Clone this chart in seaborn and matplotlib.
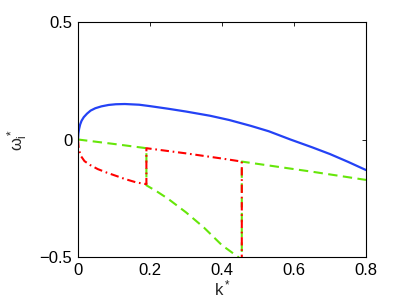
import matplotlib
matplotlib.use("Agg")
import matplotlib.pyplot as plt
import seaborn as sns
import pandas as pd

# growth-rate branch (solid blue)
k_blue = [0, 0.001, 0.003, 0.006, 0.01, 0.016, 0.025, 0.035, 0.048, 0.065, 0.085, 0.105, 0.13,
          0.17, 0.2, 0.25, 0.3, 0.367, 0.42, 0.48, 0.53, 0.59, 0.65, 0.7, 0.75, 0.8]
w_blue = [0, 0.025, 0.045, 0.064, 0.08, 0.095, 0.11, 0.123, 0.133, 0.141, 0.147, 0.15, 0.151,
          0.148, 0.142, 0.131, 0.119, 0.101, 0.083, 0.058, 0.035, 0.0, -0.033, -0.062, -0.095, -0.13]

# green dashed branch (with jumps at k=0.19 and k=0.455)
k_green = [0, 0.1, 0.19, 0.19, 0.22, 0.25, 0.3, 0.35, 0.4, 0.445, 0.455, 0.455, 0.55, 0.65, 0.8]
w_green = [0, -0.019, -0.037, -0.195, -0.222, -0.252, -0.31, -0.375, -0.45, -0.5, -0.515, -0.094,
           -0.115, -0.137, -0.172]

# red dash-dot branch
k_red = [0, 0.002, 0.008, 0.018, 0.033, 0.055, 0.08, 0.11, 0.13, 0.163, 0.19, 0.19, 0.25, 0.3,
         0.35, 0.4, 0.455, 0.455]
w_red = [0, -0.04, -0.07, -0.092, -0.108, -0.126, -0.141, -0.157, -0.168, -0.183, -0.19, -0.037,
         -0.049, -0.059, -0.07, -0.081, -0.094, -0.56]

sns.set_style("white")
plt.rcParams['font.family'] = ['Liberation Sans', 'DejaVu Sans']
plt.rcParams['mathtext.fontset'] = 'custom'
plt.rcParams['mathtext.rm'] = 'Liberation Sans'
plt.rcParams['mathtext.it'] = 'Liberation Sans'

fig = plt.figure(figsize=(4.05, 3.04), dpi=100)
ax = fig.add_axes([78 / 405, 47 / 304, 288 / 405, 235 / 304])

blue = pd.DataFrame({'k': k_blue, 'w': w_blue})
green = pd.DataFrame({'k': k_green, 'w': w_green})
red = pd.DataFrame({'k': k_red, 'w': w_red})

sns.lineplot(data=blue, x='k', y='w', sort=False, estimator=None, color='#2442f5', lw=1.6, ax=ax)
sns.lineplot(data=green, x='k', y='w', sort=False, estimator=None, color='#66e60a', lw=1.5,
             dashes=False, ax=ax, linestyle=(0, (4.5, 2.6)))
sns.lineplot(data=red, x='k', y='w', sort=False, estimator=None, color='#ff0000', lw=1.5,
             dashes=False, ax=ax, linestyle=(0, (4, 1.8, 0.8, 1.8)))

ax.set_xlim(0, 0.8)
ax.set_ylim(-0.5, 0.5)
ax.set_xticks([0, 0.2, 0.4, 0.6, 0.8])
ax.set_xticklabels(['0', '0.2', '0.4', '0.6', '0.8'])
ax.set_yticks([-0.5, 0, 0.5])
ax.set_yticklabels(['\u22120.5', '0', '0.5'])
ax.tick_params(direction='in', length=3, width=0.6, labelsize=12, top=True, right=True,
               colors='black', pad=4)
for s in ax.spines.values():
    s.set_color('black')
    s.set_linewidth(0.8)
    s.set_visible(True)

ax.set_xlabel(r'$\mathrm{k}^*$', fontsize=12)
ax.set_ylabel(r'$\omega_i^*$', fontsize=12)
ax.xaxis.set_label_coords(0.5, -0.09)
ax.yaxis.set_label_coords(-0.165, 0.5)

fig.savefig('out.png', dpi=100)
